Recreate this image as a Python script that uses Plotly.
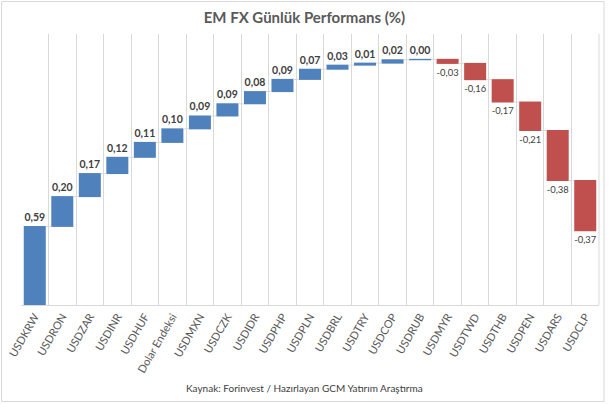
import plotly.graph_objects as go

categories = ["USDKRW", "USDRON", "USDZAR", "USDINR", "USDHUF", "Dolar Endeksi",
              "USDMXN", "USDCZK", "USDIDR", "USDPHP", "USDPLN", "USDBRL", "USDTRY",
              "USDCOP", "USDRUB", "USDMYR", "USDTWD", "USDTHB", "USDPEN", "USDARS", "USDCLP"]
# bar heights as drawn in the picture
changes = [0.58, 0.22, 0.17, 0.12, 0.11, 0.10, 0.095, 0.09, 0.09, 0.09, 0.075, 0.03,
           0.015, 0.025, 0.003, -0.03, -0.12, -0.165, -0.21, -0.37, -0.37]
# printed value labels
labels = ["0,59", "0,20", "0,17", "0,12", "0,11", "0,10", "0,09", "0,09", "0,08", "0,09",
          "0,07", "0,03", "0,01", "0,02", "0,00", "-0,03", "-0,16", "-0,17", "-0,21",
          "-0,38", "-0,37"]

title_text = "EM FX Günlük Performans (%)"
source_text = "Kaynak: Forinvest / Hazırlayan GCM Yatırım Araştırma"

FONT = "Lato, 'Open Sans', sans-serif"

shown = ["<b>" + t + "</b>" if not t.startswith("-") else t for t in labels]

fig = go.Figure(go.Waterfall(
    x=categories,
    y=changes,
    measure=["relative"] * len(changes),
    text=shown,
    texttemplate="%{text}",
    textposition="outside",
    textfont=dict(family=FONT, size=10.5, color="#404040"),
    increasing=dict(marker=dict(color="#4F81BD", line=dict(color="#4F81BD", width=0))),
    decreasing=dict(marker=dict(color="#C0504D", line=dict(color="#C0504D", width=0))),
    connector=dict(mode="between", line=dict(color="#D9D9D9", width=1)),
    cliponaxis=False,
    hoverinfo="skip",
))

fig.update_layout(
    width=609, height=404,
    margin=dict(l=21, r=10, t=34, b=99, autoexpand=False),
    paper_bgcolor="white",
    plot_bgcolor="white",
    showlegend=False,
    bargap=0.3,
    font=dict(family=FONT, color="#595959"),
    title=dict(text="<b>" + title_text + "</b>", x=0.5, xanchor="center",
               y=1 - 18 / 404, yanchor="middle", yref="container",
               font=dict(family=FONT, size=15, color="#595959")),
    xaxis=dict(
        type="category",
        tickson="boundaries",
        automargin=False,
        showgrid=True, gridcolor="#D9D9D9", gridwidth=1,
        showline=True, linecolor="#D9D9D9", linewidth=1,
        ticks="", tickangle=-60,
        tickfont=dict(family=FONT, size=11, color="#595959"),
        mirror=False,
    ),
    yaxis=dict(range=[0, 2.0], visible=False, showgrid=False, zeroline=False),
    annotations=[dict(
        text=source_text, xref="paper", yref="paper",
        x=0.49, y=-(388 - 305) / 271, xanchor="center", yanchor="middle",
        showarrow=False, font=dict(family=FONT, size=10, color="#404040"),
    )],
    shapes=[
        dict(type="rect", xref="paper", yref="paper",
             x0=-(21 - 1.5) / 579, x1=(605 - 21) / 579,
             y0=-(401.5 - 305) / 271, y1=(305 - 1.5) / 271,
             line=dict(color="#D9D9D9", width=1), fillcolor="rgba(0,0,0,0)", layer="below"),
        dict(type="line", xref="paper", yref="paper", x0=1, x1=1, y0=0, y1=1,
             line=dict(color="#D9D9D9", width=1)),
    ],
)

fig.write_html("out.html", config={"displayModeBar": False, "staticPlot": True},
               post_script="document.body.style.margin='0';document.body.style.overflow='hidden';")
